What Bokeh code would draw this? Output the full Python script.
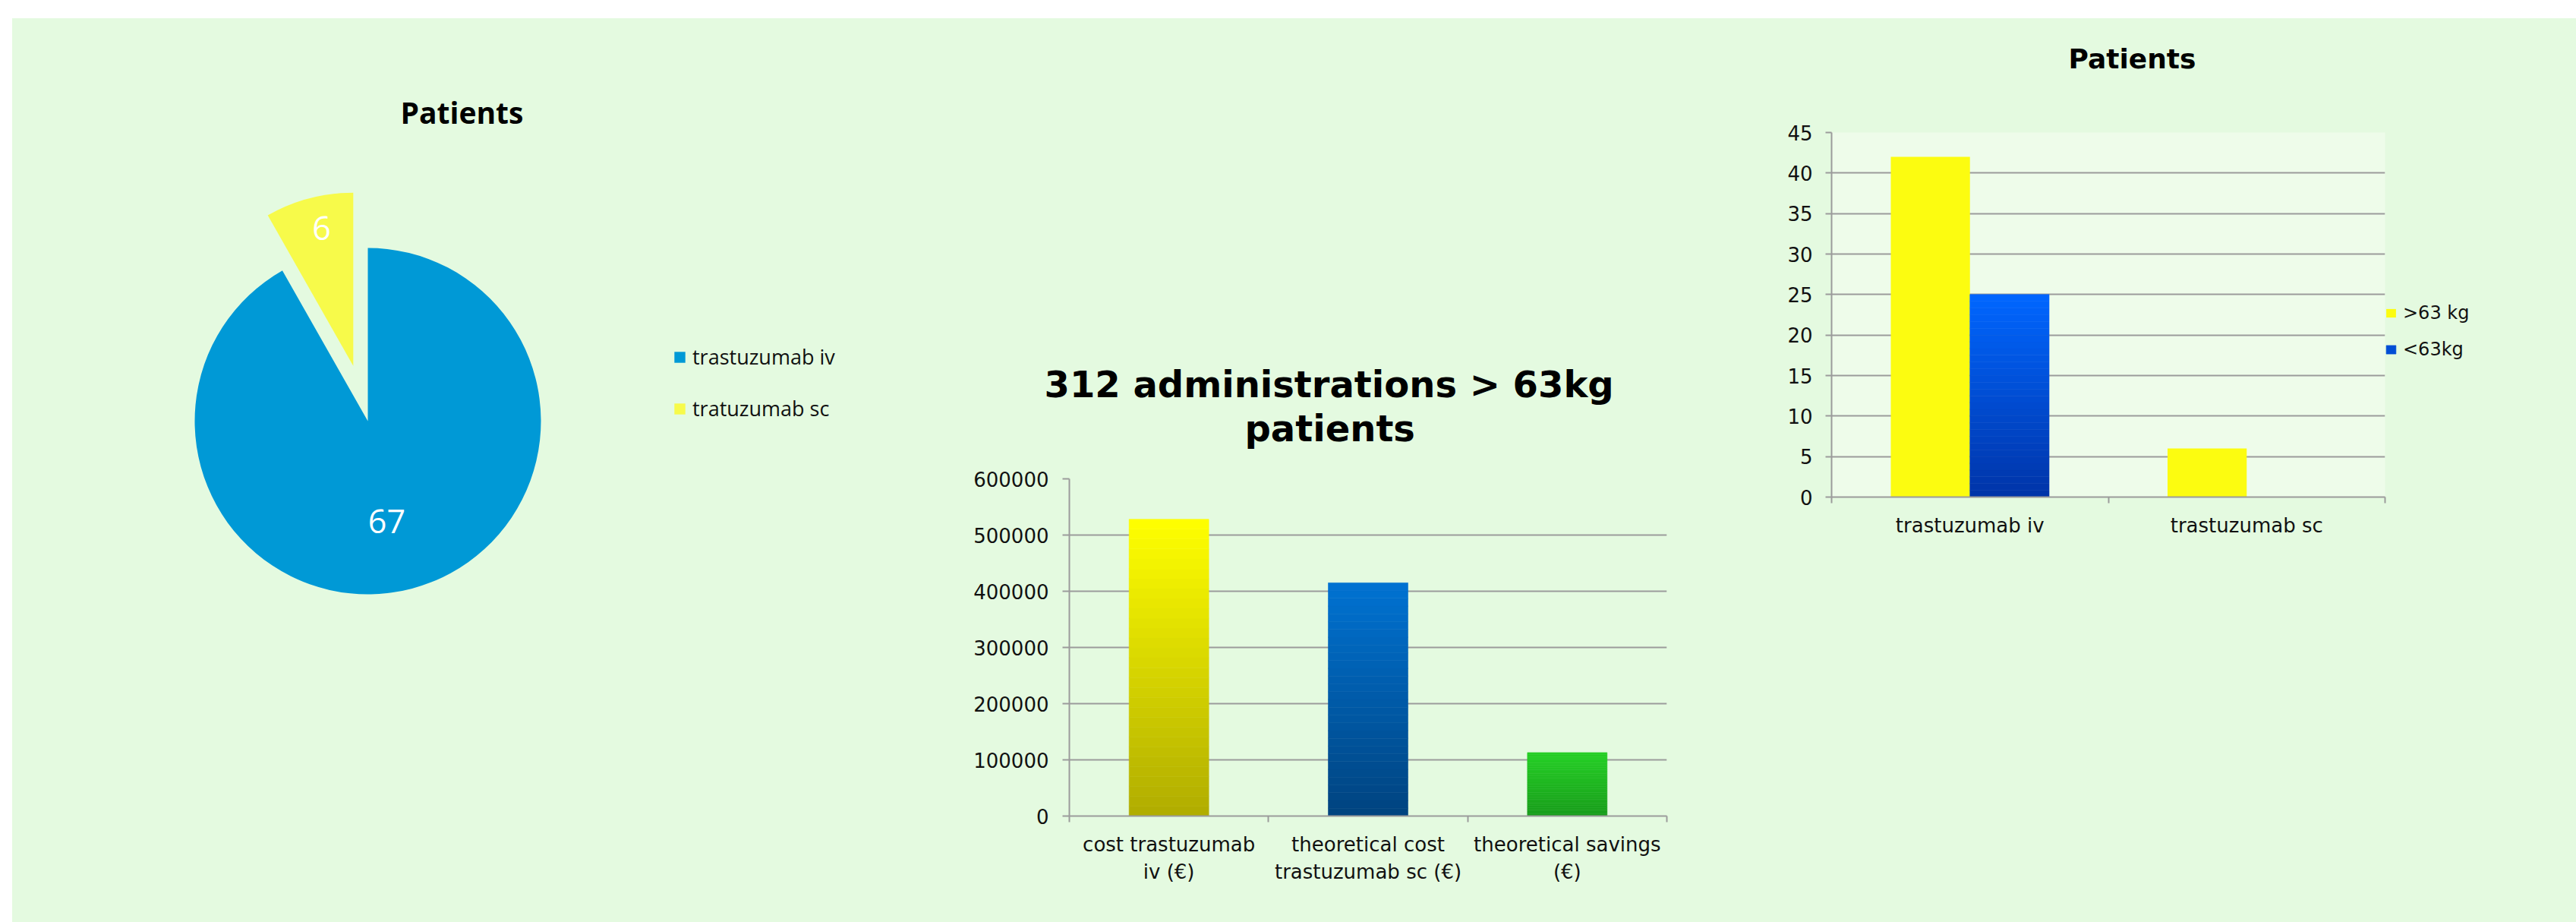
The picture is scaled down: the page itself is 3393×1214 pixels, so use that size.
import math
from bokeh.plotting import figure
from bokeh.models import (Range1d, FactorRange, ColumnDataSource, Legend, LegendItem, Title,
                          LinearAxis, CategoricalAxis, FixedTicker, BasicTickFormatter, Spacer)
from bokeh.layouts import row, column
from bokeh.transform import dodge
from bokeh.core.properties import value
from bokeh.embed import file_html
from bokeh.resources import INLINE

# ---------------- data ----------------
pie_labels = ["trastuzumab iv", "tratuzumab sc"]
pie_values = [67, 6]

cost_categories = ["cost trastuzumab\niv (€)", "theoretical cost\ntrastuzumab sc (€)", "theoretical savings\n(€)"]
cost_values = [528000, 415000, 113000]
cost_yticks = [0, 100000, 200000, 300000, 400000, 500000, 600000]

group_categories = ["trastuzumab iv", "trastuzumab sc"]
over63_values = [42, 6]
under63_values = [25, 0]
series_labels = [">63 kg", "<63kg"]
patient_yticks = [0, 5, 10, 15, 20, 25, 30, 35, 40, 45]

# ---------------- styles ----------------
GREEN = "#E4FAE0"
PLOT_BG = "#EEFCEA"
GRID = "#9B9B9B"
TXT = "#111111"
PIE_COLORS = ["#0099D6", "#F7FA4A"]
COST_TOP = ["#FFFF00", "#0072D2", "#26D026"]
COST_BOTTOM = ["#B0AC00", "#00437F", "#189C1B"]
OVER_COLOR = "#FCFC10"
UNDER_TOP, UNDER_BOTTOM = "#0066FF", "#0034A8"
SANS = "DejaVu Sans"
CAL = "Open Sans"
NSLICE = 30


def mix(c1, c2, t):
    a = [int(c1[i:i + 2], 16) for i in (1, 3, 5)]
    b = [int(c2[i:i + 2], 16) for i in (1, 3, 5)]
    return "#%02X%02X%02X" % tuple(round(a[j] + (b[j] - a[j]) * t) for j in range(3))


def gradient_columns(cats, vals, tops, bottoms):
    out = dict(cat=[], b=[], t=[], color=[])
    for c, v, ct, cb in zip(cats, vals, tops, bottoms):
        for k in range(NSLICE):
            out["cat"].append(c)
            out["b"].append(v * k / NSLICE)
            out["t"].append(v * (k + 1) / NSLICE)
            out["color"].append(mix(cb, ct, (k + 0.5) / NSLICE))
    return out


def style_axis_common(ax, tick_out):
    ax.major_tick_out = tick_out
    ax.major_tick_in = 0
    ax.minor_tick_out = 0
    ax.minor_tick_in = 0
    ax.axis_line_color = GRID
    ax.axis_line_width = 2
    ax.major_tick_line_color = GRID
    ax.major_tick_line_width = 2


def gap_title(standoff):
    # tiny background-coloured title used only as vertical space between a chart title and its plot area
    return Title(text=".", text_font_size="2px", standoff=standoff, text_color=GREEN)


H = 1190

# ---------------- pie ----------------
PW, PTOP = 1164, 154
pie = figure(width=PW, height=H, x_range=Range1d(0, PW), y_range=Range1d(0, H - PTOP),
             output_backend="svg", toolbar_location=None,
             x_axis_location=None, y_axis_location=None,
             min_border_top=PTOP, min_border_left=0, min_border_right=0, min_border_bottom=0,
             background_fill_color=GREEN, border_fill_color=GREEN, outline_line_color=None)
pie.grid.visible = False
pie.title.text = "Patients"
pie.title.align = "left"
pie.title.offset = 511
pie.title.standoff = 10
pie.title.text_font = CAL
pie.title.text_font_size = "39px"
pie.title.text_font_style = "bold"
pie.title.text_color = "#000000"

CX, CY, R = 468, 660, 228
explode = [0.0, 0.33]
label_frac = [0.6, 0.82]
total = float(sum(pie_values))
angle = math.pi / 2
starts, ends, xs, ys, lxs, lys = [], [], [], [], [], []
for v, ex, lf in zip(pie_values, explode, label_frac):
    sweep = 2 * math.pi * v / total
    end = angle
    start = angle - sweep
    midang = (start + end) / 2
    cx = CX + ex * R * math.cos(midang)
    cy = CY + ex * R * math.sin(midang)
    starts.append(start); ends.append(end); xs.append(cx); ys.append(cy)
    lxs.append(cx + lf * R * math.cos(midang)); lys.append(cy + lf * R * math.sin(midang))
    angle = start
lxs[0] -= 10
lxs[1] += 6

pie_src = ColumnDataSource(dict(label=pie_labels, value=pie_values, x=xs, y=ys, start=starts,
                                end=ends, color=PIE_COLORS, lx=lxs, ly=lys,
                                txt=[str(v) for v in pie_values]))
wr = pie.wedge(x="x", y="y", radius=R, start_angle="start", end_angle="end",
               direction="anticlock", fill_color="color", line_color=None, source=pie_src)
pie.text(x="lx", y="ly", text="txt", source=pie_src, text_align="center", text_baseline="middle",
         text_color="white", text_font=value(CAL), text_font_size="43px")
pie_legend = Legend(items=[LegendItem(label=pie_labels[i], renderers=[wr], index=i) for i in range(len(pie_labels))],
                    location=(870, 658), orientation="vertical", glyph_width=18, glyph_height=18,
                    label_standoff=8, label_height=37, spacing=31, padding=0, margin=0,
                    border_line_color=None, background_fill_alpha=0,
                    label_text_font=CAL, label_text_font_size="27px", label_text_color=TXT)
pie.add_layout(pie_legend, "center")

# ---------------- cost bars ----------------
MW = 1080
mid = figure(width=MW, height=H, x_range=FactorRange(*cost_categories), y_range=Range1d(0, 600000),
             output_backend="svg", toolbar_location=None, x_axis_location=None,
             min_border_left=228, min_border_right=65, min_border_top=606, min_border_bottom=140,
             background_fill_color=GREEN, border_fill_color=GREEN, outline_line_color=None)
mid.title.text = "312 administrations > 63kg"
mid.title.align = "left"
mid.title.offset = -33
mid.title.standoff = 0
mid.title.text_font = SANS
mid.title.text_font_size = "48px"
mid.title.text_font_style = "bold"
mid.title.text_color = "#000000"
mid.add_layout(gap_title(36), "above")
mid.add_layout(Title(text="patients", align="left", offset=231, standoff=0, text_font=SANS,
                     text_font_size="48px", text_font_style="bold", text_color="#000000"), "above")
mid_src = ColumnDataSource(gradient_columns(cost_categories, cost_values, COST_TOP, COST_BOTTOM))
mid.vbar(x="cat", bottom="b", top="t", width=0.4, fill_color="color", line_color="color",
         line_width=0.6, source=mid_src)
mid.xgrid.visible = False
mid.ygrid.grid_line_color = GRID
mid.ygrid.grid_line_width = 2
mid.ygrid.ticker = FixedTicker(ticks=cost_yticks)
ya = mid.yaxis[0]
ya.ticker = FixedTicker(ticks=cost_yticks)
ya.formatter = BasicTickFormatter(use_scientific=False)
style_axis_common(ya, 9)
ya.major_label_standoff = 18
ya.major_label_text_font = SANS
ya.major_label_text_font_size = "26px"
ya.major_label_text_color = TXT
mtick = LinearAxis(ticker=FixedTicker(ticks=list(range(len(cost_categories) + 1))),
                   major_label_overrides={i: "" for i in range(len(cost_categories) + 1)},
                   major_label_standoff=0, major_label_text_font_size="1px")
style_axis_common(mtick, 8)
mid.add_layout(mtick, "below")
mcat = CategoricalAxis(major_tick_out=0, major_tick_in=0, axis_line_color=None, major_label_standoff=14,
                       major_label_text_font=SANS, major_label_text_font_size="26px", major_label_text_color=TXT)
mid.add_layout(mcat, "below")

# ---------------- patients grouped bars ----------------
RW = 1133
rf = figure(width=RW, height=H, frame_width=729, frame_height=480,
            x_range=FactorRange(*group_categories), y_range=Range1d(0, 45),
            output_backend="svg", toolbar_location=None, x_axis_location=None,
            min_border_left=152, min_border_right=252, min_border_top=150, min_border_bottom=560,
            background_fill_color=PLOT_BG, border_fill_color=GREEN, outline_line_color=None)
rf.title.text = "Patients"
rf.title.align = "left"
rf.title.offset = 312
rf.title.standoff = 10
rf.title.text_font = SANS
rf.title.text_font_size = "36px"
rf.title.text_font_style = "bold"
rf.title.text_color = "#000000"
rf.add_layout(gap_title(69), "above")
rsrc = ColumnDataSource(dict(cat=group_categories, over=over63_values))
r1 = rf.vbar(x=dodge("cat", -0.143, range=rf.x_range), top="over", width=0.286, source=rsrc,
             fill_color=OVER_COLOR, line_color=None)
usrc = ColumnDataSource(gradient_columns(group_categories, under63_values,
                                         [UNDER_TOP] * len(group_categories),
                                         [UNDER_BOTTOM] * len(group_categories)))
r2 = rf.vbar(x=dodge("cat", 0.143, range=rf.x_range), bottom="b", top="t", width=0.286, source=usrc,
             fill_color="color", line_color="color", line_width=0.6)
rf.xgrid.visible = False
rf.ygrid.grid_line_color = GRID
rf.ygrid.grid_line_width = 2
rf.ygrid.ticker = FixedTicker(ticks=patient_yticks)
ry = rf.yaxis[0]
ry.ticker = FixedTicker(ticks=patient_yticks)
style_axis_common(ry, 8)
ry.major_label_standoff = 17
ry.major_label_text_font = SANS
ry.major_label_text_font_size = "26px"
ry.major_label_text_color = TXT
rtick = LinearAxis(ticker=FixedTicker(ticks=list(range(len(group_categories) + 1))),
                   major_label_overrides={i: "" for i in range(len(group_categories) + 1)},
                   major_label_standoff=0, major_label_text_font_size="1px")
style_axis_common(rtick, 8)
rf.add_layout(rtick, "below")
rcat = CategoricalAxis(major_tick_out=0, major_tick_in=0, axis_line_color=None, major_label_standoff=14,
                       major_label_text_font=SANS, major_label_text_font_size="26px", major_label_text_color=TXT)
rf.add_layout(rcat, "below")
r_legend = Legend(items=[LegendItem(label=series_labels[0], renderers=[r1]),
                         LegendItem(label=series_labels[1], renderers=[r2], index=NSLICE // 2)],
                  location=(0, 180), orientation="vertical", glyph_width=16, glyph_height=14,
                  label_standoff=8, label_height=28, spacing=20, padding=0, margin=0,
                  border_line_color=None, background_fill_alpha=0,
                  label_text_font=SANS, label_text_font_size="24px", label_text_color=TXT)
rf.add_layout(r_legend, "right")

# ---------------- layout ----------------
inner = row(column(Spacer(height=0), pie),
            column(Spacer(height=0), mid),
            column(Spacer(height=0), rf),
            styles={"background-color": GREEN})
page = column(Spacer(height=24), row(Spacer(width=16), inner))

open("out.html", "w").write(file_html(page, INLINE))
